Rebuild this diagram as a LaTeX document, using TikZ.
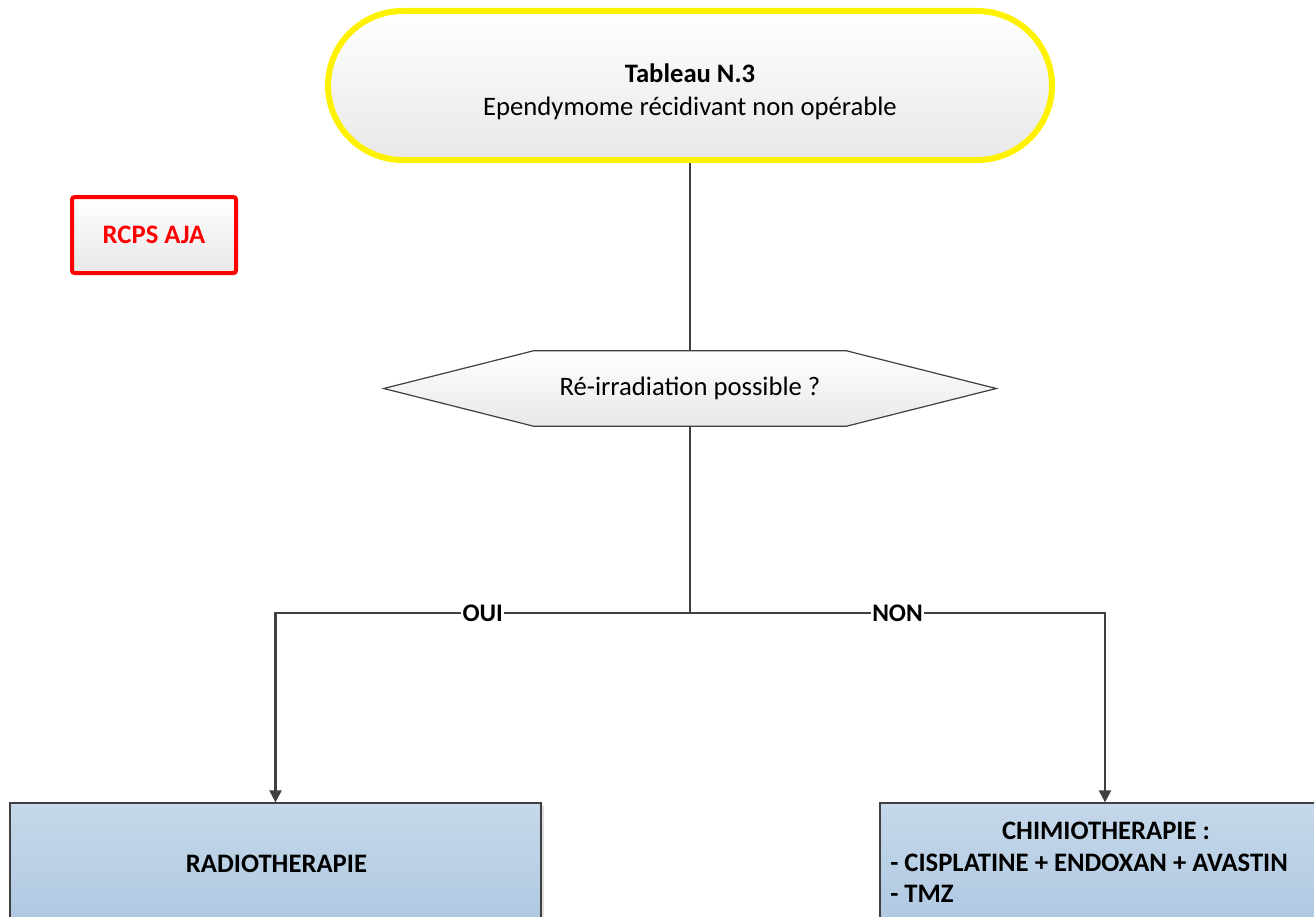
\documentclass[tikz,border=0pt]{standalone}
\usepackage{fontspec}
\setmainfont{Carlito}
\usetikzlibrary{arrows.meta,shadows,calc,backgrounds}
\definecolor{lineg}{HTML}{404040}
\definecolor{boxtop}{HTML}{C6D8EA}
\definecolor{boxbot}{HTML}{A9C5DF}
\definecolor{greytop}{HTML}{FFFFFF}
\definecolor{greybot}{HTML}{E8E8E8}
\tikzset{
  bigfont/.style={font=\fontsize{20}{24.75}\selectfont},
  startbox/.style={rectangle, rounded corners=56pt, draw=yellow, line width=4.5pt,
    top color=greytop, bottom color=greybot,
    minimum width=543pt, minimum height=111.75pt},
  tagbox/.style={rectangle, rounded corners=2pt, draw=red, line width=3pt,
    top color=greytop, bottom color=greybot,
    minimum width=123pt, minimum height=57pt, text=red, font=\fontsize{20}{24}\selectfont\bfseries,
    drop shadow={opacity=0.2, shadow xshift=1.5pt, shadow yshift=-1.5pt}},
  questionbox/.style={rectangle, inner sep=0pt,
    minimum width=459pt, minimum height=56.25pt, font=\fontsize{20}{24}\selectfont},
  hexfill/.style={draw=lineg, line width=0.9pt, top color=greytop, bottom color=greybot},
  actionbox/.style={rectangle, draw=lineg, line width=0.9pt,
    top color=boxtop, bottom color=boxbot, inner sep=0pt,
    drop shadow={opacity=0.25, shadow xshift=2pt, shadow yshift=-2pt}},
  bodytext/.style={inner sep=0pt, font=\fontsize{20}{24}\selectfont\bfseries},
  link/.style={draw=lineg, line width=1.6pt},
  arr/.style={link, -{Triangle[width=9pt,length=9pt]}},
  branch/.style={fill=white, inner sep=1pt, font=\fontsize{19}{22}\selectfont\bfseries},
}
\begin{document}
\begin{tikzpicture}[x=0.75pt, y=-0.75pt]
\useasboundingbox (0,0) rectangle (1314,917);
\clip (0,0) rectangle (1314,917);

% start terminal
\node[startbox] (start) at (690,85.5) {};
\node[bigfont, align=center, inner sep=0pt] (starttxt) at (690,92)
  {\textbf{Tableau N.3}\\Ependymome récidivant non opérable};

% side tag
\node[tagbox] (tag) at (154,235) {RCPS AJA};

% decision hexagon (outline drawn behind its label)
\node[questionbox] (q) at (690,388.5) {Ré-irradiation possible ?};
\begin{scope}[on background layer]
  \fill[white] (0,0) rectangle (1314,917);
  \path[hexfill] (q.west) -- ($(q.north west)+(150,0)$) -- ($(q.north east)+(-150,0)$)
    -- (q.east) -- ($(q.south east)+(-150,0)$) -- ($(q.south west)+(150,0)$) -- cycle;
\end{scope}

% outcome boxes
\node[actionbox, minimum width=398.25pt, minimum height=112.5pt] (radio) at (275.5,878) {};
\node[actionbox, minimum width=337.5pt, minimum height=112.5pt] (chimio) at (1105,878) {};
\node[bodytext] (radiotxt) at (276.5,864) {RADIOTHERAPIE};
\node[bodytext, anchor=base] (chimiotitle) at (1106,839) {CHIMIOTHERAPIE :};
\node[bodytext, anchor=base west] (chimio1) at (890,871) {- CISPLATINE + ENDOXAN + AVASTIN};
\node[bodytext, anchor=base west] (chimio2) at (890,902) {- TMZ};

% connectors
\coordinate (split) at (690,613);
\coordinate (lc) at (radio.north |- split);
\coordinate (rc) at (chimio.north |- split);

\draw[link] (start.south) -- (q.north);
\draw[link] (q.south) -- (split);
\draw[arr] (split) -- node[branch] {OUI} (lc) -- (radio.north);
\draw[arr] (split) -- node[branch] {NON} (rc) -- (chimio.north);
\end{tikzpicture}
\end{document}
